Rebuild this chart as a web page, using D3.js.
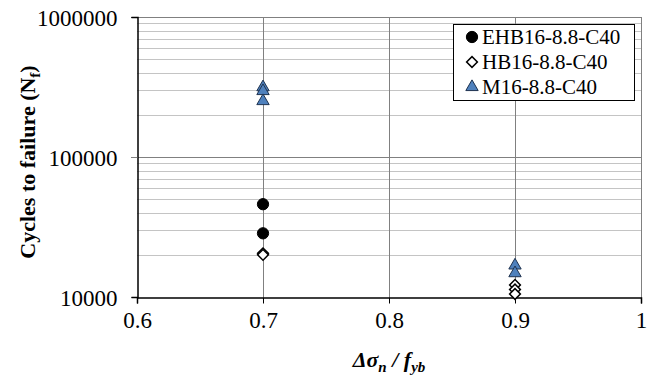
<!DOCTYPE html>
<html>
<head>
<meta charset="utf-8">
<script src="https://cdn.jsdelivr.net/npm/d3@7"></script>
<style>
  body { margin: 0; background: #fff; }
  svg text { font-family: "Times New Roman", "Liberation Serif", Tinos, "DejaVu Serif", serif; }
</style>
</head>
<body>
<svg id="chart" width="660" height="380"></svg>
<script>
// series
var ehbX = [0.7, 0.7];
var ehbY = [46000, 28500];
var hbX = [0.7, 0.7, 0.9, 0.9, 0.9];
var hbY = [20500, 20000, 12200, 11300, 10500];
var mX = [0.7, 0.7, 0.7, 0.9, 0.9];
var mY = [315000, 296000, 251000, 16800, 14800];

var xTicks = [0.6, 0.7, 0.8, 0.9, 1];
var yTicks = [10000, 100000, 1000000];
var seriesNames = ['EHB16-8.8-C40', 'HB16-8.8-C40', 'M16-8.8-C40'];

var serif = '"Times New Roman", "Liberation Serif", Tinos, "DejaVu Serif", serif';
var plot = { left: 137, right: 641, top: 17, bottom: 297 };

var svg = d3.select('#chart');

var x = d3.scaleLinear().domain([0.6, 1]).range([plot.left, plot.right]);
var y = d3.scaleLog().domain([10000, 1000000]).range([plot.bottom, plot.top]);

// minor log grid (2..9 per decade)
var minor = [];
[10000, 100000].forEach(function (d) {
  for (var k = 2; k <= 9; k++) minor.push(d * k);
});

svg.append('g')
  .selectAll('line')
  .data(minor)
  .enter().append('line')
  .attr('x1', plot.left).attr('x2', plot.right)
  .attr('y1', function (d) { return Math.round(y(d)) + 0.5; })
  .attr('y2', function (d) { return Math.round(y(d)) + 0.5; })
  .attr('stroke', '#c4c4c4')
  .attr('stroke-width', 1);

// major horizontal grid
svg.append('g')
  .selectAll('line')
  .data(yTicks.slice(1))
  .enter().append('line')
  .attr('x1', plot.left - 6).attr('x2', plot.right)
  .attr('y1', function (d) { return Math.round(y(d)) + 0.5; })
  .attr('y2', function (d) { return Math.round(y(d)) + 0.5; })
  .attr('stroke', '#808080')
  .attr('stroke-width', 1);

// vertical grid
svg.append('g')
  .selectAll('line')
  .data(xTicks.slice(1))
  .enter().append('line')
  .attr('x1', function (d) { return Math.round(x(d)) + 0.5; })
  .attr('x2', function (d) { return Math.round(x(d)) + 0.5; })
  .attr('y1', plot.top).attr('y2', plot.bottom)
  .attr('stroke', '#808080')
  .attr('stroke-width', 1);

// axes
var xAxis = d3.axisBottom(x).tickValues(xTicks).tickSize(6).tickPadding(8)
  .tickFormat(function (d) { return d === 1 ? '1' : d3.format('.1f')(d); });
var gx = svg.append('g')
  .attr('transform', 'translate(0,' + (plot.bottom + 0.5) + ')')
  .call(xAxis);

var yAxis = d3.axisLeft(y).tickValues(yTicks).tickSize(6).tickPadding(14)
  .tickFormat(d3.format('d'));
var gy = svg.append('g')
  .attr('transform', 'translate(' + (plot.left + 0.5) + ',0)')
  .call(yAxis);

[gx, gy].forEach(function (g) {
  g.attr('font-family', serif).attr('font-size', 23);
  g.select('.domain').attr('stroke', '#000').attr('stroke-width', 1.5);
  g.selectAll('.tick line').attr('stroke', '#000');
  g.selectAll('.tick text').attr('fill', '#000');
});
gy.selectAll('.tick text').attr('dy', '0.35em');
gy.selectAll('.tick line').filter(function (d) { return d === 100000; }).attr('stroke', '#808080');

// markers
var sym = {
  circle: d3.symbol().type(d3.symbolCircle).size(100),
  diamond: d3.symbol().type(d3.symbolSquare).size(58),
  triangle: d3.symbol().type(d3.symbolTriangle).size(66)
};

function drawSeries(xs, ys, kind) {
  var pts = xs.map(function (v, i) { return [v, ys[i]]; });
  var g = svg.append('g');
  var m = g.selectAll('path').data(pts).enter().append('path')
    .attr('d', sym[kind]())
    .attr('transform', function (d) {
      var t = 'translate(' + x(d[0]) + ',' + y(d[1]) + ')';
      return kind === 'diamond' ? t + ' rotate(45)' : t;
    });
  styleMarker(m, kind);
}

function styleMarker(sel, kind) {
  if (kind === 'circle') sel.attr('fill', '#000').attr('stroke', '#000').attr('stroke-width', 1);
  if (kind === 'diamond') sel.attr('fill', '#fff').attr('stroke', '#000').attr('stroke-width', 1.5);
  if (kind === 'triangle') sel.attr('fill', '#4f81bd').attr('stroke', '#1f3350').attr('stroke-width', 1);
}

drawSeries(ehbX, ehbY, 'circle');
drawSeries(hbX, hbY, 'diamond');
drawSeries(mX, mY, 'triangle');

// legend
var legend = svg.append('g');
legend.append('rect')
  .attr('x', 453.5).attr('y', 24.5).attr('width', 181).attr('height', 76)
  .attr('fill', '#fff').attr('stroke', '#000').attr('stroke-width', 1);

var kinds = ['circle', 'diamond', 'triangle'];
seriesNames.forEach(function (name, i) {
  var cy = 37 + i * 25;
  var m = legend.append('path')
    .attr('d', sym[kinds[i]]())
    .attr('transform', 'translate(472,' + cy + ')' + (kinds[i] === 'diamond' ? ' rotate(45)' : ''));
  styleMarker(m, kinds[i]);
  legend.append('text')
    .attr('x', 482).attr('y', cy).attr('dy', '0.35em')
    .style('font-size', '21px')
    .text(name);
});

// axis titles
var yt = svg.append('text')
  .attr('transform', 'translate(35,162) rotate(-90)')
  .attr('text-anchor', 'middle')
  .style('font-size', '22px')
  .style('font-weight', 'bold');
yt.append('tspan').text('Cycles to failure (N');
yt.append('tspan').attr('dy', 5).style('font-size', '15px').text('f');
yt.append('tspan').attr('dy', -5).text(')');

var xt = svg.append('text')
  .attr('x', 389).attr('y', 367)
  .attr('text-anchor', 'middle')
  .style('font-size', '22px')
  .style('font-weight', 'bold')
  .style('font-style', 'italic');
xt.append('tspan').text('Δσ');
xt.append('tspan').attr('dy', 5).style('font-size', '15px').text('n');
xt.append('tspan').attr('dy', -5).text(' / f');
xt.append('tspan').attr('dy', 5).style('font-size', '15px').text('yb');
</script>
</body>
</html>
